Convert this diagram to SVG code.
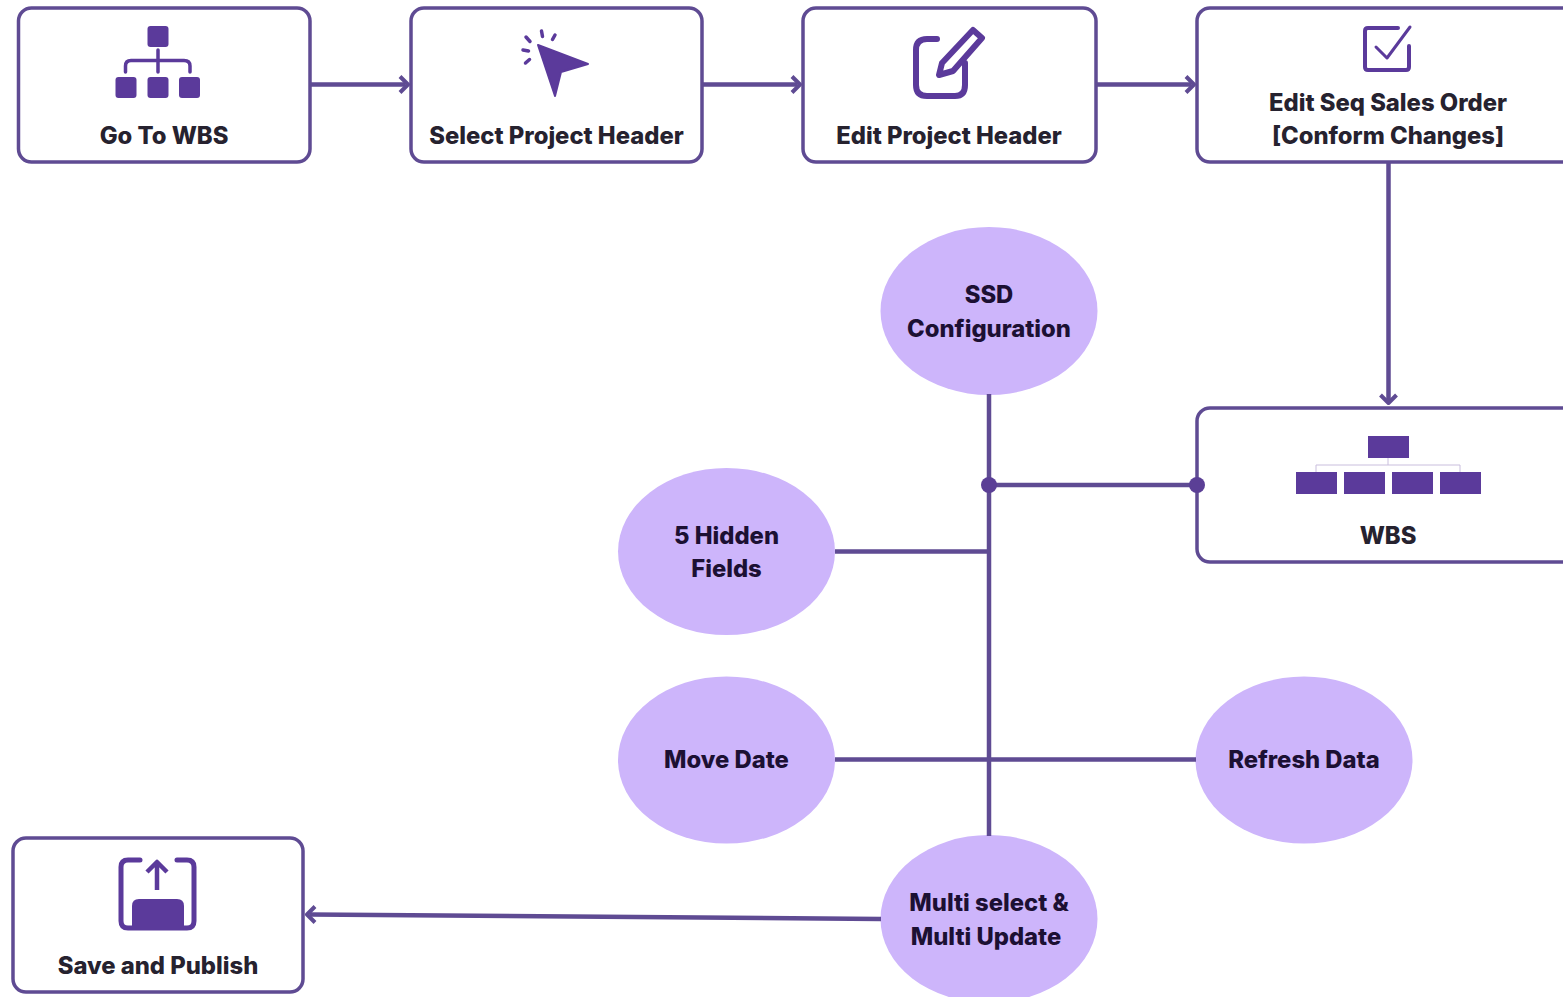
<svg xmlns="http://www.w3.org/2000/svg" width="1563" height="997" viewBox="0 0 1563 997">
<style>
.box{fill:#fff;stroke:#5f4b93;stroke-width:3.500}
.oval{fill:#cdb5fb}
.icon{fill:#5b3a9b}
.iconline{fill:none;stroke:#5b3a9b;stroke-width:3.500;stroke-linecap:round;stroke-linejoin:round}
.line{fill:none;stroke:#5f4b93;stroke-width:4.500}
.arrow{fill:none;stroke:#5f4b93;stroke-width:4;stroke-linejoin:round}
.dot{fill:#5b3f96}
text{font-family:Inter,"Liberation Sans",sans-serif;font-weight:800;font-size:23.800px;fill:#26222f;text-anchor:middle}
.ol{fill:#1c1033}
</style>
<rect width="1563" height="997" fill="#fff"/>
<g id="go-to-wbs">
<rect class="box" x="18.500" y="8" width="291.500" height="154" rx="13"/>
<rect class="icon" x="147.500" y="26" width="21" height="21" rx="3"/>
<rect class="icon" x="115.500" y="77" width="21" height="21" rx="3"/>
<rect class="icon" x="147.500" y="77" width="21" height="21" rx="3"/>
<rect class="icon" x="179" y="77" width="21" height="21" rx="3"/>
<path class="iconline" d="M158 50V72M125.500 72V66Q125.500 60.500 131 60.500H184Q190 60.500 190 66V72"/>
<text x="164" y="143.500">Go To WBS</text>
</g>
<g id="select-project-header">
<rect class="box" x="411" y="8" width="291" height="154" rx="13"/>
<path class="icon" stroke="#5b3a9b" stroke-width="2" stroke-linejoin="round" d="M538 45L588 64L561 72L555 96Z"/>
<path class="iconline" d="M541.500 31L542.500 36.500M555 35L552.500 39.500M526 37L530 41.500M523 50L528.500 51M525.500 63L529.500 59.500"/>
<text x="556.500" y="143.500">Select Project Header</text>
</g>
<g id="edit-project-header">
<rect class="box" x="803" y="8" width="293" height="154" rx="13"/>
<path d="M937 39H927Q916 39 916 50V85Q916 96 927 96H955Q965 96 965 85V63" fill="none" stroke="#5b3a9b" stroke-width="6" stroke-linecap="round" stroke-linejoin="round"/>
<path d="M973 30L982 38L953 71L939 75L942 63Z" fill="none" stroke="#5b3a9b" stroke-width="6" stroke-linejoin="round"/>
<text x="949" y="143.500">Edit Project Header</text>
</g>
<g id="edit-seq-sales-order">
<rect class="box" x="1197" y="8" width="380" height="154" rx="13"/>
<path d="M1398 28H1368Q1365 28 1365 31V67Q1365 70 1368 70H1406Q1409 70 1409 67V46" fill="none" stroke="#5b3a9b" stroke-width="4" stroke-linecap="round" stroke-linejoin="round"/>
<path d="M1376 47L1387 58L1410 27" fill="none" stroke="#5b3a9b" stroke-width="3" stroke-linecap="round" stroke-linejoin="round"/>
<text x="1388" y="110.500">Edit Seq Sales Order</text>
<text x="1388" y="143.500">[Conform Changes]</text>
</g>
<g id="wbs">
<rect class="box" x="1197" y="408" width="380" height="154" rx="13"/>
<rect class="icon" x="1368" y="436" width="41" height="22"/>
<rect class="icon" x="1296" y="472" width="41" height="22"/>
<rect class="icon" x="1344" y="472" width="41" height="22"/>
<rect class="icon" x="1392" y="472" width="41" height="22"/>
<rect class="icon" x="1440" y="472" width="41" height="22"/>
<path d="M1316 472V465H1460V472M1388 458V465" fill="none" stroke="#c9bedd" stroke-width="1"/>
<text x="1388" y="543.500">WBS</text>
</g>
<g id="ssd-configuration">
<ellipse class="oval" cx="989" cy="311" rx="108.500" ry="84"/>
<text class="ol" x="989" y="302.500">SSD</text>
<text class="ol" x="989" y="336.500">Configuration</text>
</g>
<g id="hidden-fields">
<ellipse class="oval" cx="726.500" cy="551.500" rx="108.500" ry="83.500"/>
<text class="ol" x="726.500" y="543.500">5 Hidden</text>
<text class="ol" x="726.500" y="576.500">Fields</text>
</g>
<g id="move-date">
<ellipse class="oval" cx="726.500" cy="760" rx="108.500" ry="83.500"/>
<text class="ol" x="726.500" y="768">Move Date</text>
</g>
<g id="refresh-data">
<ellipse class="oval" cx="1304" cy="760" rx="108.500" ry="83.500"/>
<text class="ol" x="1304" y="768">Refresh Data</text>
</g>
<g id="multi-select">
<ellipse class="oval" cx="989" cy="919" rx="108.500" ry="84"/>
<text class="ol" x="989" y="911">Multi select &amp;</text>
<text class="ol" x="986" y="945">Multi Update</text>
</g>
<g id="save-and-publish">
<rect class="box" x="13" y="838" width="290" height="154" rx="13"/>
<path d="M140 860H128Q121 860 121 867V921Q121 928 128 928H187Q194 928 194 921V867Q194 860 187 860H177" fill="none" stroke="#5b3a9b" stroke-width="5" stroke-linecap="round"/>
<path class="icon" d="M132 928V906Q132 899 139 899H177Q184 899 184 906V928Z"/>
<path d="M157 890V864M147 872L157 862L167 872" fill="none" stroke="#5b3a9b" stroke-width="4.500" stroke-linejoin="round"/>
<text x="158" y="973.500">Save and Publish</text>
</g>
<g id="connectors">
<path class="line" d="M311 84.500H405M703 84.500H797M1097 84.500H1191M1388.500 163V400M989 394V836M989 485H1197M835 551.500H989M835 759.500H1196M881 919L310 914.500"/>
<path class="arrow" d="M400 76.500L408 84.500L400 92.500M792 76.500L800 84.500L792 92.500M1186 76.500L1194 84.500L1186 92.500M1380.500 395L1388.500 403L1396.500 395M315 906.500L307 914.500L315 922.500"/>
<circle class="dot" cx="989" cy="485" r="8"/>
<circle class="dot" cx="1197" cy="485" r="8"/>
</g>
</svg>
